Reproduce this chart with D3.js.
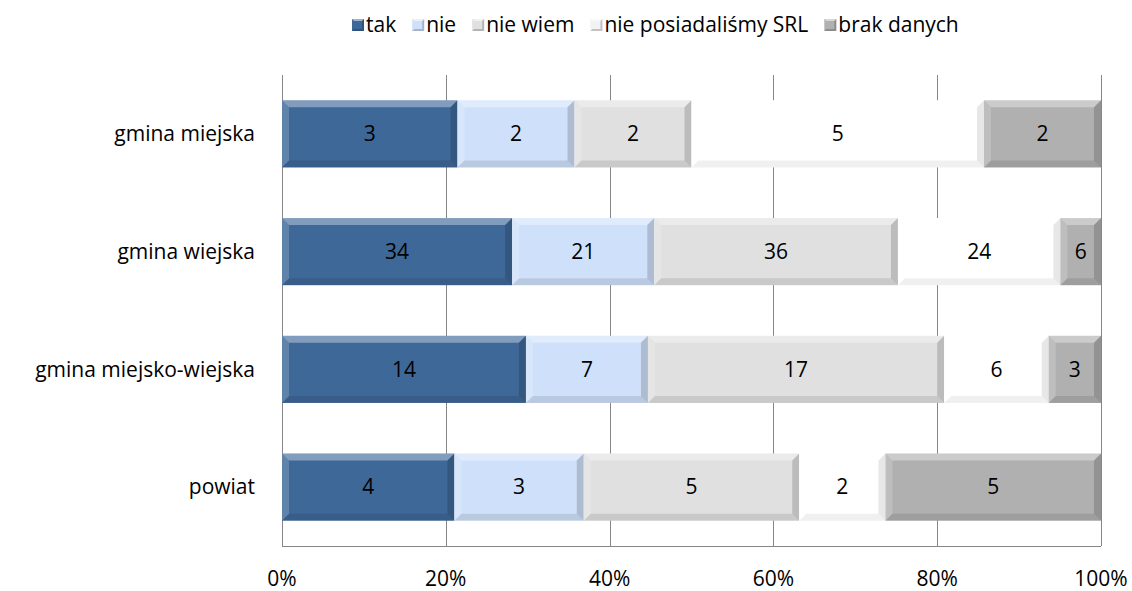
<!DOCTYPE html>
<html>
<head>
<meta charset="utf-8">
<script src="https://cdn.jsdelivr.net/npm/d3@7"></script>
<style>
  body { margin: 0; background: #fff; }
  text { font-family: "Open Sans", Lato, sans-serif; fill: #000; }
</style>
</head>
<body>
<div class="chart"></div>
<script>
////////// DATA //////////

const categories = ["gmina miejska", "gmina wiejska", "gmina miejsko-wiejska", "powiat"];
const seriesNames = ["tak", "nie", "nie wiem", "nie posiadaliśmy SRL", "brak danych"];
const tak = [3, 34, 14, 4];
const nie = [2, 21, 7, 3];
const nieWiem = [2, 36, 17, 5];
const niePosiadalismy = [5, 24, 6, 2];
const brakDanych = [2, 6, 3, 5];
const tickLabels = ["0%", "20%", "40%", "60%", "80%", "100%"];

const colours = ["#3e6898", "#cfe1fa", "#e0e0e0", "#ffffff", "#b0b0b0"];

////////// SETUP //////////

let width = 1132, height = 591;
let margin = { top: 75, right: 31, left: 282 };
let innerW = width - margin.left - margin.right;
let innerH = 546 - margin.top;
let fontSize = "21px";

let svg = d3.select(".chart").append("svg")
    .attr("width", width)
    .attr("height", height);

let series = [tak, nie, nieWiem, niePosiadalismy, brakDanych];

// stack as shares of each row total
let rows = categories.map((c, i) => {
  let total = d3.sum(series, s => s[i]);
  let acc = 0;
  return {
    cat: c,
    parts: series.map((s, k) => {
      let p = { k: k, v: s[i], x0: acc / total, x1: (acc + s[i]) / total };
      acc += s[i];
      return p;
    })
  };
});

let x = d3.scaleLinear().domain([0, 1]).range([0, innerW]);
let y = d3.scaleBand().domain(categories).range([0, innerH]).paddingInner(0.43).paddingOuter(0.215);

let g = svg.append("g")
    .attr("transform", "translate(" + margin.left + "," + margin.top + ")");

// gridlines
g.append("g")
  .selectAll("line")
  .data(d3.range(0, 1.0001, 0.2))
  .enter().append("line")
    .attr("x1", d => Math.round(x(d)) + 0.5)
    .attr("x2", d => Math.round(x(d)) + 0.5)
    .attr("y1", 0)
    .attr("y2", innerH)
    .attr("stroke", "#868686");

// bottom axis line
g.append("line")
    .attr("x1", 0).attr("x2", innerW)
    .attr("y1", innerH + 0.5).attr("y2", innerH + 0.5)
    .attr("stroke", "#868686");

// tick labels
g.append("g")
  .selectAll("text")
  .data(tickLabels)
  .enter().append("text")
    .attr("x", (d, i) => x(i / 5))
    .attr("y", innerH + 40)
    .attr("text-anchor", "middle")
    .style("font-size", fontSize)
    .text(d => d);

// category labels
g.append("g")
  .selectAll("text")
  .data(categories)
  .enter().append("text")
    .attr("x", -27)
    .attr("y", d => y(d) + y.bandwidth() / 2)
    .attr("dy", "0.35em")
    .attr("text-anchor", "end")
    .style("font-size", fontSize)
    .text(d => d);

////////// BARS //////////

const bev = 7;

function bevel(sel, w, h, light) {
  let k = light ? 0.6 : 1;
  sel.append("polygon")
    .attr("points", [[0,0],[w,0],[w-bev,bev],[bev,bev]].join(" "))
    .attr("fill", "#fff").attr("fill-opacity", 0.35);
  sel.append("polygon")
    .attr("points", [[0,0],[bev,bev],[bev,h-bev],[0,h]].join(" "))
    .attr("fill", "#fff").attr("fill-opacity", 0.18);
  sel.append("polygon")
    .attr("points", [[0,h],[bev,h-bev],[w-bev,h-bev],[w,h]].join(" "))
    .attr("fill", "#000").attr("fill-opacity", 0.1 * k);
  sel.append("polygon")
    .attr("points", [[w,0],[w,h],[w-bev,h-bev],[w-bev,bev]].join(" "))
    .attr("fill", "#000").attr("fill-opacity", 0.16 * k);
}

let rowG = g.selectAll(".row")
  .data(rows)
  .enter().append("g")
    .attr("class", "row")
    .attr("transform", d => "translate(0," + y(d.cat) + ")");

rowG.each(function(r) {
  let seg = d3.select(this).selectAll(".seg")
    .data(r.parts)
    .enter().append("g")
      .attr("class", "seg")
      .attr("transform", d => "translate(" + x(d.x0) + ",0)");

  seg.each(function(d) {
    let s = d3.select(this);
    let w = x(d.x1) - x(d.x0);
    let h = y.bandwidth();
    s.append("rect")
      .attr("width", w)
      .attr("height", h)
      .attr("fill", colours[d.k]);
    bevel(s, w, h, d.k === 3);
    s.append("text")
      .attr("x", w / 2)
      .attr("y", h / 2)
      .attr("dy", "0.35em")
      .attr("text-anchor", "middle")
      .style("font-size", fontSize)
      .text(d.v);
  });
});

////////// LEGEND //////////

let legend = svg.append("g")
    .attr("class", "legend")
    .attr("transform", "translate(352,25)");

const ms = 12, bs = 2;
let lx = 0;
seriesNames.forEach((name, k) => {
  let item = legend.append("g").attr("transform", "translate(" + lx + ",0)");
  let m = item.append("g").attr("transform", "translate(0,-6)");
  m.append("rect").attr("width", ms).attr("height", ms)
    .attr("fill", colours[k] === "#ffffff" ? "#f2f2f2" : colours[k]);
  m.append("polygon").attr("points", [[0,0],[ms,0],[ms-bs,bs],[bs,bs]].join(" ")).attr("fill", "#fff").attr("fill-opacity", 0.5);
  m.append("polygon").attr("points", [[0,ms],[bs,ms-bs],[ms-bs,ms-bs],[ms,ms]].join(" ")).attr("fill", "#000").attr("fill-opacity", 0.2);
  m.append("polygon").attr("points", [[ms,0],[ms,ms],[ms-bs,ms-bs],[ms-bs,bs]].join(" ")).attr("fill", "#000").attr("fill-opacity", 0.2);
  let t = item.append("text")
    .attr("x", ms + 2)
    .attr("y", 0)
    .attr("dy", "0.35em")
    .style("font-size", fontSize)
    .text(name);
  lx += ms + 2 + t.node().getComputedTextLength() + 16;
});
</script>
</body>
</html>
